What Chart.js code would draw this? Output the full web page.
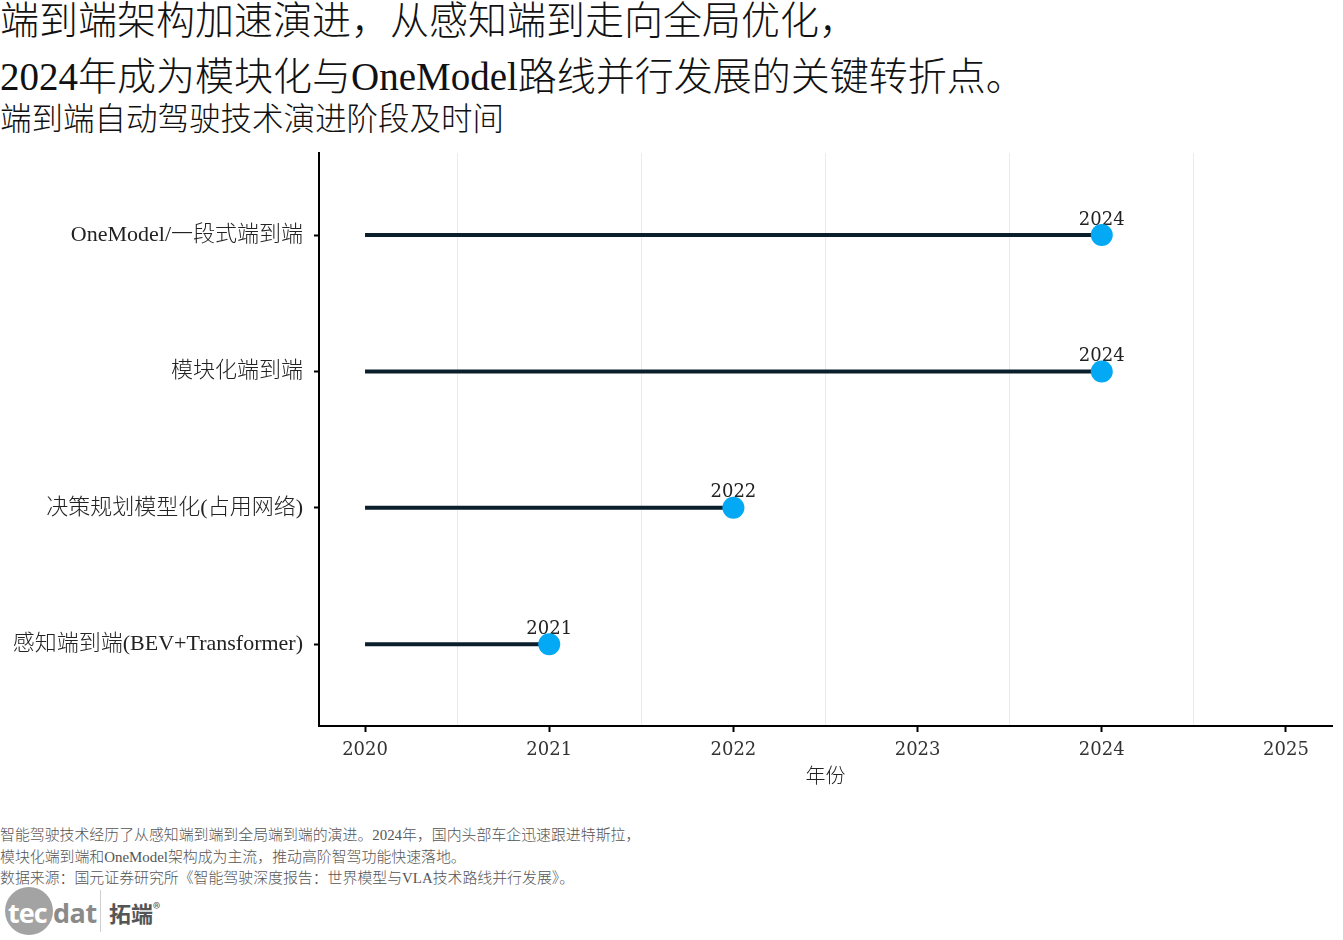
<!DOCTYPE html>
<html>
<head>
<meta charset="utf-8">
<script src="https://cdn.jsdelivr.net/npm/chart.js@4.4.1/dist/chart.umd.min.js"></script>
<style>
    html, body { margin: 0; padding: 0; background: #fff; }
    body { width: 1343px; height: 940px; position: relative; overflow: hidden;
           font-family: "Liberation Serif", "Noto Sans CJK SC", serif; font-weight: 300; color: #111; }
    .t { position: absolute; left: 0; white-space: nowrap; line-height: 1; }
    #title1 { top: 1px; font-size: 39px; }
    #title2 { top: 57px; font-size: 39px; }
    #subtitle { top: 104px; font-size: 31.5px; }
    #wrap { position: absolute; left: 0; top: 129px; width: 1343px; height: 671px; }
    #caption { position: absolute; left: 0; top: 825px; font-size: 14.9px; line-height: 21.5px; color: #555; white-space: nowrap; }
    #logo { position: absolute; left: 4px; top: 886px; height: 50px; width: 200px; }
    #logo .circle { position: absolute; left: 1px; top: 1px; width: 48px; height: 48px; border-radius: 50%; background: #a3a3a3; }
    #logo .tec { position: absolute; left: 4px; top: 8px; font: bold 27px "Open Sans", "DejaVu Sans", sans-serif; color: #fff; letter-spacing: -1px; }
    #logo .dat { position: absolute; left: 49px; top: 8px; font: bold 27px "Open Sans", "DejaVu Sans", sans-serif; color: #8a8a8a; letter-spacing: -0.5px; }
    #logo .bar { position: absolute; left: 96px; top: 4px; width: 1px; height: 42px; background: #cfcfcf; }
    #logo .cn { position: absolute; left: 105px; top: 10px; font: bold 22px "Noto Sans CJK SC", sans-serif; color: #555; }
    #logo .cn sup { font-size: 15px; font-weight: normal; vertical-align: 8px; }
</style>
</head>
<body>
<div class="t" id="title1">端到端架构加速演进，从感知端到走向全局优化，</div>
<div class="t" id="title2">2024年成为模块化与OneModel路线并行发展的关键转折点。</div>
<div class="t" id="subtitle">端到端自动驾驶技术演进阶段及时间</div>

<div id="wrap"><canvas id="chart"></canvas></div>

<div id="caption">
    智能驾驶技术经历了从感知端到端到全局端到端的演进。2024年，国内头部车企迅速跟进特斯拉，<br>
    模块化端到端和OneModel架构成为主流，推动高阶智驾功能快速落地。<br>
    数据来源：国元证券研究所《智能驾驶深度报告：世界模型与VLA技术路线并行发展》。
</div>

<div id="logo">
    <div class="circle"></div>
    <div class="tec">tec</div>
    <div class="dat">dat</div>
    <div class="bar"></div>
    <div class="cn">拓端<sup>®</sup></div>
</div>

<script>
// stages, bottom to top
const stages = ['感知端到端(BEV+Transformer)', '决策规划模型化(占用网络)', '模块化端到端', 'OneModel/一段式端到端'];
const stageYears = [2021, 2022, 2024, 2024];
const startYear = 2020;
const yearTicks = [2020, 2021, 2022, 2023, 2024, 2025];

const LINE_COLOR = '#0b1e2c';
const POINT_COLOR = '#03a9f4';
const serifFont = '"DejaVu Serif", serif';
const cjkFont = '"Liberation Serif", "Noto Sans CJK SC", serif';

// one line dataset per stage, from the start year to the stage year
const segmentSets = stages.map((name, i) => ({
    type: 'line',
    label: name,
    data: [{ x: startYear, y: i + 1 }, { x: stageYears[i], y: i + 1 }],
    borderColor: LINE_COLOR,
    borderWidth: 4,
    pointRadius: 0,
    fill: false,
    order: 2,
}));

const pointSet = {
    type: 'scatter',
    label: 'points',
    data: stages.map((name, i) => ({ x: stageYears[i], y: i + 1 })),
    backgroundColor: POINT_COLOR,
    borderWidth: 0,
    pointRadius: 11,
    order: 1,
};

// half-year positions carry the light grid lines, whole years carry ticks
const gridTicks = [];
yearTicks.forEach((y, i) => {
    gridTicks.push(y);
    if (i < yearTicks.length - 1) gridTicks.push(y + 0.5);
});

const yearLabels = {
    id: 'yearLabels',
    beforeDatasetsDraw(chart) {
        const { ctx, scales } = chart;
        ctx.save();
        ctx.font = '18px ' + serifFont;
        ctx.fillStyle = '#222';
        ctx.textAlign = 'center';
        ctx.textBaseline = 'middle';
        stages.forEach((name, i) => {
            const px = scales.x.getPixelForValue(stageYears[i]);
            const py = scales.y.getPixelForValue(i + 1);
            ctx.fillText(String(stageYears[i]), px, py - 15);
        });
        ctx.restore();
    }
};

new Chart(document.getElementById('chart').getContext('2d'), {
    data: { datasets: segmentSets.concat([pointSet]) },
    options: {
        responsive: true,
        maintainAspectRatio: false,
        animation: false,
        layout: { padding: { top: 0, right: 10, left: 0, bottom: 0 } },
        plugins: { legend: { display: false }, tooltip: { enabled: false } },
        scales: {
            x: {
                type: 'linear',
                min: 2019.75,
                max: 2025.25,
                afterBuildTicks: (scale) => { scale.ticks = gridTicks.map(v => ({ value: v })); },
                afterFit: (scale) => { scale.height = 74; },
                border: { display: true, color: '#000', width: 2 },
                grid: {
                    color: (c) => (c.tick && Number.isInteger(c.tick.value)) ? 'rgba(0,0,0,0)' : '#ebebeb',
                    lineWidth: 1,
                    tickColor: (c) => (c.tick && Number.isInteger(c.tick.value)) ? '#000' : 'rgba(0,0,0,0)',
                    tickWidth: 2,
                    tickLength: 6,
                },
                ticks: {
                    autoSkip: false,
                    maxRotation: 0,
                    padding: 8,
                    color: '#333',
                    font: { family: serifFont, size: 18 },
                    callback: (v) => Number.isInteger(v) ? String(v) : '',
                },
                title: {
                    display: true,
                    text: '年份',
                    color: '#222',
                    font: { family: cjkFont, size: 20, weight: '300' },
                    padding: { top: 0, bottom: 10 },
                },
            },
            y: {
                type: 'linear',
                min: 0.4,
                max: 4.6,
                afterBuildTicks: (scale) => { scale.ticks = stages.map((s, i) => ({ value: i + 1 })); },
                afterFit: (scale) => { scale.width = 319; },
                border: { display: true, color: '#000', width: 2 },
                grid: {
                    drawOnChartArea: false,
                    tickColor: '#000',
                    tickWidth: 2,
                    tickLength: 5,
                },
                ticks: {
                    padding: 11,
                    color: '#222',
                    font: { family: cjkFont, size: 22, weight: '300' },
                    callback: (v) => stages[v - 1] || '',
                },
            },
        },
    },
    plugins: [yearLabels],
});
</script>
</body>
</html>
